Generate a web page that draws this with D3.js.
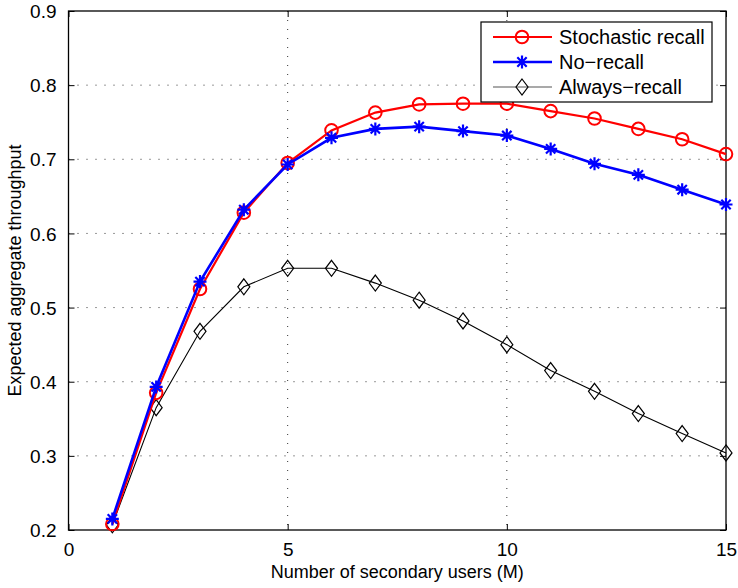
<!DOCTYPE html>
<html>
<head>
<meta charset="utf-8">
<script src="https://cdn.jsdelivr.net/npm/d3@7"></script>
<style>
  body { margin: 0; background: #fff; }
  text { font-family: "Liberation Sans", Arial, sans-serif; fill: #000; }
</style>
</head>
<body>
<div id="chart"></div>
<script>
// data
var users = [1, 2, 3, 4, 5, 6, 7, 8, 9, 10, 11, 12, 13, 14, 15];
var stochastic = [0.208, 0.385, 0.525, 0.628, 0.695, 0.739, 0.763, 0.774, 0.775, 0.775, 0.765, 0.755, 0.741, 0.727, 0.707];
var noRecall = [0.215, 0.393, 0.535, 0.632, 0.693, 0.729, 0.741, 0.744, 0.738, 0.732, 0.714, 0.694, 0.679, 0.659, 0.639];
var alwaysRecall = [0.207, 0.365, 0.468, 0.528, 0.553, 0.553, 0.533, 0.510, 0.482, 0.450, 0.415, 0.387, 0.357, 0.330, 0.304];
var xTicks = [0, 5, 10, 15];
var yTicks = [0.2, 0.3, 0.4, 0.5, 0.6, 0.7, 0.8, 0.9];
var seriesNames = ["Stochastic recall", "No\u2212recall", "Always\u2212recall"];

var W = 738, H = 588;
var m = {left: 68.5, right: 12, top: 11, bottom: 58};

var svg = d3.select("#chart").append("svg")
  .attr("width", W).attr("height", H);

var x = d3.scaleLinear().domain([0, 15]).range([m.left, W - m.right]);
var y = d3.scaleLinear().domain([0.2, 0.9]).range([H - m.bottom, m.top]);

// grid (dotted)
var grid = svg.append("g").attr("stroke", "#333").attr("stroke-width", 1).attr("stroke-dasharray", "1,8");
grid.selectAll(".gx").data(xTicks.slice(1, -1)).enter().append("line")
  .attr("x1", d => x(d)).attr("x2", d => x(d))
  .attr("y1", y(0.9)).attr("y2", y(0.2));
grid.selectAll(".gy").data(yTicks.slice(1, -1)).enter().append("line")
  .attr("x1", x(0)).attr("x2", x(15))
  .attr("y1", d => y(d)).attr("y2", d => y(d));

// box
svg.append("rect")
  .attr("x", x(0)).attr("y", y(0.9))
  .attr("width", x(15) - x(0)).attr("height", y(0.2) - y(0.9))
  .attr("fill", "none").attr("stroke", "#000").attr("stroke-width", 1.3);

// axes, ticks inside
var xAxis = d3.axisBottom(x).tickValues(xTicks).tickSizeInner(-6).tickSizeOuter(0).tickPadding(13).tickFormat(d3.format("d"));
var yAxis = d3.axisLeft(y).tickValues(yTicks).tickSizeInner(-6).tickSizeOuter(0).tickPadding(12).tickFormat(d3.format(".1f"));
var gx = svg.append("g").attr("transform", "translate(0," + y(0.2) + ")").call(xAxis);
var gy = svg.append("g").attr("transform", "translate(" + x(0) + ",0)").call(yAxis);
svg.append("g").attr("transform", "translate(0," + y(0.9) + ")")
  .call(d3.axisTop(x).tickValues(xTicks).tickSizeInner(-6).tickSizeOuter(0).tickFormat(""));
svg.append("g").attr("transform", "translate(" + x(15) + ",0)")
  .call(d3.axisRight(y).tickValues(yTicks).tickSizeInner(-6).tickSizeOuter(0).tickFormat(""));
svg.selectAll(".domain").remove();
svg.selectAll(".tick line").attr("stroke", "#000");
gx.selectAll("text").style("font-size", "19px").attr("font-family", null);
gy.selectAll("text").style("font-size", "19px").attr("font-family", null).attr("dy", "0.35em");

// axis titles
svg.append("text").attr("x", (x(0) + x(15)) / 2).attr("y", 578)
  .attr("text-anchor", "middle").style("font-size", "18px")
  .text("Number of secondary users (M)");
svg.append("text").attr("transform", "translate(21," + (y(0.55)) + ") rotate(-90)")
  .attr("text-anchor", "middle").style("font-size", "18px")
  .text("Expected aggregate throughput");

var line = d3.line().x(d => x(d[0])).y(d => y(d[1]));

function circle(g, cx, cy, color) {
  g.append("circle").attr("cx", cx).attr("cy", cy).attr("r", 6.3)
    .attr("fill", "none").attr("stroke", color).attr("stroke-width", 2);
}
function star(g, cx, cy, color) {
  var r = 6.5;
  var p = "M" + (cx - r) + "," + cy + "h" + (2 * r) +
    "M" + cx + "," + (cy - r) + "v" + (2 * r) +
    "M" + (cx - r * 0.72) + "," + (cy - r * 0.72) + "l" + (r * 1.44) + "," + (r * 1.44) +
    "M" + (cx - r * 0.72) + "," + (cy + r * 0.72) + "l" + (r * 1.44) + "," + (-r * 1.44);
  g.append("path").attr("d", p).attr("stroke", color).attr("stroke-width", 2.2).attr("fill", "none");
}
function diamond(g, cx, cy, color) {
  var p = "M" + cx + "," + (cy - 8) + "L" + (cx + 6) + "," + cy + "L" + cx + "," + (cy + 8) + "L" + (cx - 6) + "," + cy + "Z";
  g.append("path").attr("d", p).attr("stroke", color).attr("stroke-width", 1.2).attr("fill", "none");
}

var series = [
  {name: seriesNames[2], vals: alwaysRecall, color: "#000", width: 1.1, mark: diamond},
  {name: seriesNames[0], vals: stochastic, color: "#ff0000", width: 2.2, mark: circle},
  {name: seriesNames[1], vals: noRecall, color: "#0000ff", width: 2.6, mark: star}
];

series.forEach(function (s) {
  var pts = users.map((u, i) => [u, s.vals[i]]);
  svg.append("path").datum(pts).attr("d", line)
    .attr("fill", "none").attr("stroke", s.color).attr("stroke-width", s.width);
  var g = svg.append("g");
  pts.forEach(p => s.mark(g, x(p[0]), y(p[1]), s.color));
});

// legend
var lg = svg.append("g");
lg.append("rect").attr("x", 481).attr("y", 22).attr("width", 231).attr("height", 80)
  .attr("fill", "#fff").attr("stroke", "#000").attr("stroke-width", 1.2);
var legendOrder = [series[1], series[2], series[0]];
legendOrder.forEach(function (s, i) {
  var ly = 37 + i * 25;
  lg.append("line").attr("x1", 493).attr("x2", 552).attr("y1", ly).attr("y2", ly)
    .attr("stroke", s.color === "#000" ? "#555" : s.color).attr("stroke-width", s.width);
  s.mark(lg, 522, ly, s.color);
  lg.append("text").attr("x", 559).attr("y", ly).attr("dy", "0.36em")
    .style("font-size", "20px").text(s.name);
});
</script>
</body>
</html>
